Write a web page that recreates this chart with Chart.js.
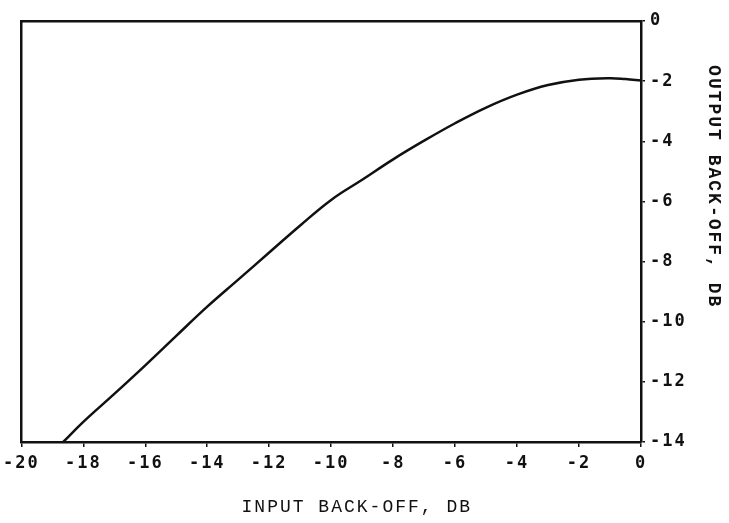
<!DOCTYPE html>
<html>
<head>
<meta charset="utf-8">
<title>Output vs input back-off</title>
<script src="https://cdn.jsdelivr.net/npm/chart.js@4"></script>
<style>
  html, body { margin: 0; padding: 0; background: #fff; }
  #wrap { width: 729px; height: 523px; position: relative; }
</style>
</head>
<body>
<div id="wrap"><canvas id="chart"></canvas></div>
<script>
// ── Data ──────────────────────────────────
const inputBackoff = [-18.65, -18, -17, -16, -15, -14, -13, -12, -11, -10,
  -9, -8, -7, -6, -5, -4, -3, -2, -1, -0.5, 0];
const outputBackoff = [-14, -13.33, -12.4, -11.45, -10.47, -9.5, -8.6, -7.7, -6.8, -5.95,
  -5.28, -4.6, -3.98, -3.4, -2.88, -2.45, -2.13, -1.95, -1.9, -1.93, -1.98];

const xTicks = [-20, -18, -16, -14, -12, -10, -8, -6, -4, -2, 0];
const yTicks = [0, -2, -4, -6, -8, -10, -12, -14];

const xTitle = 'INPUT BACK-OFF, DB';
const yTitle = 'OUTPUT BACK-OFF, DB';

const INK = '#111';
const tickFont = { family: "'DejaVu Sans Mono', monospace", size: 17, weight: 'bold' };
const titleFamily = "'Liberation Mono', 'Courier New', monospace";

// typewriter look: spread the letters a little
const typewriter = {
  id: 'typewriter',
  beforeDraw(chart) { chart.ctx.letterSpacing = '2px'; },
};

const points = inputBackoff.map((x, i) => ({ x, y: outputBackoff[i] }));

new Chart(document.getElementById('chart'), {
  type: 'line',
  data: {
    datasets: [{
      data: points,
      borderColor: INK,
      borderWidth: 2.5,
      pointRadius: 0,
      tension: 0.4,
      fill: false,
    }],
  },
  options: {
    responsive: true,
    maintainAspectRatio: false,
    animation: false,
    layout: { padding: { left: 21, top: 21, right: 0, bottom: 0 } },
    plugins: { legend: { display: false }, tooltip: { enabled: false } },
    scales: {
      x: {
        type: 'linear',
        position: 'bottom',
        min: -20,
        max: 0,
        afterBuildTicks: (s) => { s.ticks = xTicks.map(v => ({ value: v })); },
        afterFit: (s) => { s.height = 81; },
        grid: { drawOnChartArea: false, tickLength: 5, color: INK, lineWidth: 1.5 },
        border: { color: INK, width: 2.5 },
        ticks: {
          color: INK,
          font: tickFont,
          padding: 6,
          maxRotation: 0,
          autoSkip: false,
          callback: (v) => String(v),
        },
        title: {
          display: true,
          text: '    ' + xTitle,
          color: INK,
          font: { family: titleFamily, size: 18 },
          padding: { top: 0, bottom: 5 },
        },
      },
      y: {
        type: 'linear',
        position: 'right',
        min: -14,
        max: 0,
        afterBuildTicks: (s) => { s.ticks = yTicks.map(v => ({ value: v })); },
        afterFit: (s) => { s.width = 88; },
        grid: { drawOnChartArea: false, tickLength: 4, color: INK, lineWidth: 1.5 },
        border: { color: INK, width: 2.5 },
        ticks: {
          color: INK,
          font: tickFont,
          padding: 5,
          autoSkip: false,
          callback: (v) => String(v),
        },
        title: {
          display: true,
          text: yTitle + '       ',
          color: INK,
          font: { family: titleFamily, size: 18, weight: 'bold' },
          padding: { top: 5, bottom: 0 },
        },
      },
      // frame edges on top and left
      xTop: {
        type: 'linear',
        position: 'top',
        min: -20,
        max: 0,
        afterFit: (s) => { s.height = 0; },
        grid: { drawOnChartArea: false, drawTicks: false },
        border: { color: INK, width: 2.5 },
        ticks: { display: false },
      },
      yLeft: {
        type: 'linear',
        position: 'left',
        min: -14,
        max: 0,
        afterFit: (s) => { s.width = 0; },
        grid: { drawOnChartArea: false, drawTicks: false },
        border: { color: INK, width: 2.5 },
        ticks: { display: false },
      },
    },
  },
  plugins: [typewriter],
});
</script>
</body>
</html>
